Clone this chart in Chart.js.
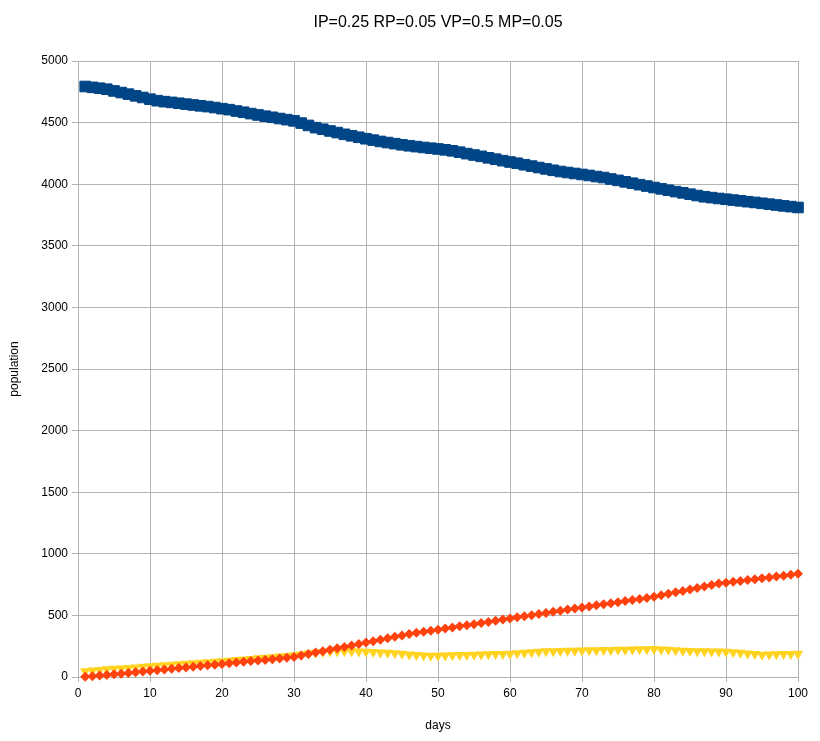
<!DOCTYPE html>
<html>
<head>
<meta charset="utf-8">
<script src="https://cdn.jsdelivr.net/npm/chart.js@4/dist/chart.umd.min.js"></script>
<style>
  html, body { margin: 0; padding: 0; background: #fff; }
  canvas { display: block; }
</style>
</head>
<body>
<canvas id="chart" width="820" height="741"></canvas>
<script>
const title = "IP=0.25 RP=0.05 VP=0.5 MP=0.05";

const days = [1, 2, 3, 4, 5, 6, 7, 8, 9, 10, 11, 12, 13, 14, 15, 16, 17, 18, 19, 20,
  21, 22, 23, 24, 25, 26, 27, 28, 29, 30, 31, 32, 33, 34, 35, 36, 37, 38, 39, 40,
  41, 42, 43, 44, 45, 46, 47, 48, 49, 50, 51, 52, 53, 54, 55, 56, 57, 58, 59, 60,
  61, 62, 63, 64, 65, 66, 67, 68, 69, 70, 71, 72, 73, 74, 75, 76, 77, 78, 79, 80,
  81, 82, 83, 84, 85, 86, 87, 88, 89, 90, 91, 92, 93, 94, 95, 96, 97, 98, 99, 100];

// blue squares
const healthy = [4793, 4786, 4779, 4771, 4757, 4744, 4731, 4717, 4704, 4690,
  4678, 4670, 4664, 4657, 4650, 4643, 4636, 4630, 4622, 4613,
  4605, 4594, 4584, 4573, 4562, 4552, 4543, 4533, 4524, 4514,
  4496, 4477, 4459, 4446, 4432, 4419, 4405, 4393, 4381, 4369,
  4358, 4347, 4338, 4329, 4320, 4312, 4305, 4298, 4292, 4286,
  4279, 4271, 4260, 4248, 4237, 4226, 4214, 4203, 4191, 4180,
  4170, 4158, 4147, 4135, 4124, 4113, 4103, 4095, 4087, 4079,
  4071, 4062, 4054, 4042, 4031, 4019, 4008, 3996, 3985, 3973,
  3962, 3951, 3940, 3930, 3919, 3908, 3898, 3891, 3884, 3878,
  3871, 3865, 3858, 3852, 3845, 3838, 3831, 3824, 3818, 3811];

// red diamonds
const recovered = [2, 7, 12, 17, 22, 27, 32, 38, 44, 50,
  55, 61, 67, 73, 78, 83, 89, 95, 100, 106,
  111, 117, 123, 129, 134, 139, 145, 151, 157, 163,
  174, 186, 198, 210, 221, 233, 244, 256, 268, 280,
  291, 303, 314, 326, 337, 349, 360, 368, 376, 384,
  393, 402, 411, 420, 429, 438, 447, 456, 466, 475,
  484, 493, 502, 511, 520, 529, 538, 547, 556, 565,
  573, 582, 590, 599, 607, 616, 625, 634, 642, 651,
  663, 675, 687, 699, 711, 723, 735, 746, 758, 766,
  773, 780, 787, 794, 801, 808, 815, 822, 830, 838];

// yellow triangles
const infected = [46, 52, 57, 62, 66, 70, 74, 78, 83, 87,
  91, 95, 99, 103, 107, 111, 115, 119, 123, 127,
  132, 137, 142, 147, 152, 157, 161, 166, 171, 176,
  183, 190, 196, 202, 207, 209, 210, 209, 207, 205,
  202, 199, 196, 192, 188, 183, 178, 174, 173, 173,
  174, 176, 178, 179, 181, 182, 184, 186, 187, 189,
  193, 197, 201, 205, 208, 210, 211, 213, 214, 216,
  217, 218, 219, 220, 221, 222, 223, 225, 226, 227,
  224, 221, 217, 214, 211, 210, 209, 207, 206, 205,
  201, 196, 191, 186, 181, 182, 184, 186, 187, 189];

function toPoints(values) {
  return days.map((d, i) => ({ x: d, y: values[i] }));
}

const gridColor = "#b3b3b3";
const textColor = "#000000";
const fontFamily = "'Liberation Sans', Arial, sans-serif";
const font = { family: fontFamily, size: 12 };

// title centred over the plot area, like the original office chart
const plotTitle = {
  id: "plotTitle",
  afterDraw(chart) {
    const { ctx, chartArea } = chart;
    ctx.save();
    ctx.font = "16px " + fontFamily;
    ctx.fillStyle = textColor;
    ctx.textAlign = "center";
    ctx.textBaseline = "middle";
    ctx.fillText(title, (chartArea.left + chartArea.right) / 2, 22.5);
    ctx.restore();
  },
};

new Chart(document.getElementById("chart"), {
  type: "scatter",
  data: {
    datasets: [
      {
        label: "healthy",
        data: toPoints(healthy),
        pointStyle: "rect",
        pointRadius: 7.5,
        pointBorderWidth: 1,
        backgroundColor: "#004586",
        borderColor: "#004586",
        clip: false,
      },
      {
        label: "recovered",
        data: toPoints(recovered),
        pointStyle: "rectRot",
        pointRadius: 5,
        pointBorderWidth: 0,
        backgroundColor: "#ff420e",
        borderColor: "#ff420e",
        clip: false,
      },
      {
        label: "infected",
        data: toPoints(infected),
        pointStyle: "triangle",
        pointRotation: 180,
        pointRadius: 6,
        pointBorderWidth: 0,
        backgroundColor: "#ffd320",
        borderColor: "#ffd320",
        clip: false,
      },
    ],
  },
  plugins: [plotTitle],
  options: {
    responsive: false,
    animation: false,
    layout: { padding: { left: 0, right: 22, top: 61, bottom: 0 } },
    plugins: {
      legend: { display: false },
      tooltip: { enabled: false },
      title: { display: false },
    },
    scales: {
      x: {
        type: "linear",
        min: 0,
        max: 100,
        ticks: { stepSize: 10, color: textColor, font: font, padding: 4, maxRotation: 0 },
        grid: { color: gridColor, tickLength: 5 },
        border: { color: gridColor },
        title: { display: true, text: "days", color: textColor, font: font, padding: { top: 0, bottom: 8 } },
        afterFit: (scale) => { scale.height = 64; },
      },
      y: {
        min: 0,
        max: 5000,
        ticks: {
          stepSize: 500,
          color: textColor,
          font: font,
          padding: 4,
          callback: (v) => String(v),
        },
        grid: { color: gridColor, tickLength: 6 },
        border: { color: gridColor },
        title: { display: true, text: "population", color: textColor, font: font, padding: { top: 7, bottom: 0 } },
        afterFit: (scale) => { scale.width = 78; },
      },
    },
  },
});
</script>
</body>
</html>
